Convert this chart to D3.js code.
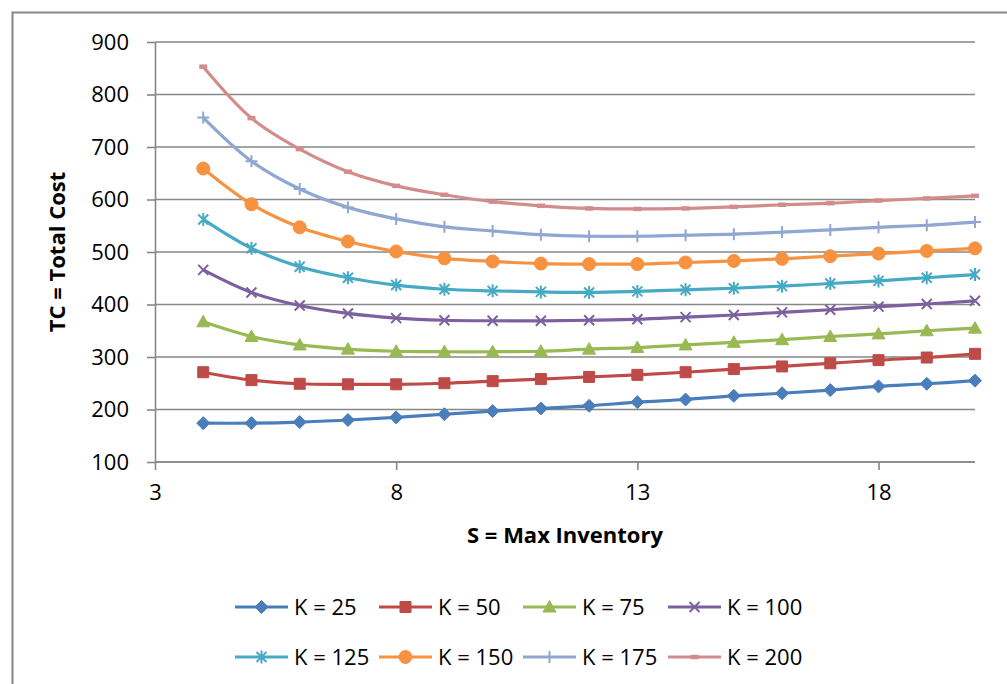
<!DOCTYPE html>
<html>
<head>
<meta charset="utf-8">
<script src="https://cdn.jsdelivr.net/npm/d3@7"></script>
<style>
    body { margin: 0; background: #fff; }
    svg text { font-family: "Open Sans", "Noto Sans", sans-serif; fill: #000; }
    .grid line { stroke: #878787; stroke-width: 1.6; }
    .axis path, .axis line { stroke: #878787; stroke-width: 1.6; }
    .axis text { font-size: 22px; }
    .title { font-size: 22px; font-weight: bold; }
    .legend text { font-size: 22px; }
</style>
</head>
<body>
<div id="chart"></div>
<script>
// S = max inventory (x values)
var sValues = [4, 5, 6, 7, 8, 9, 10, 11, 12, 13, 14, 15, 16, 17, 18, 19, 20];

// total cost for each K
var tcK25  = [174, 174, 176, 180, 185, 191, 197, 202, 207, 214, 219, 226, 231, 237, 244, 249, 255];
var tcK50  = [271, 256, 249, 248, 248, 250, 254, 258, 262, 266, 271, 277, 282, 288, 294, 299, 306];
var tcK75  = [367, 339, 323, 315, 311, 310, 310, 311, 315, 318, 323, 328, 333, 339, 344, 350, 355];
var tcK100 = [466, 423, 398, 383, 374, 370, 369, 369, 370, 372, 376, 380, 385, 390, 396, 401, 407];
var tcK125 = [562, 507, 472, 451, 437, 429, 426, 424, 423, 425, 428, 431, 435, 440, 445, 451, 457];
var tcK150 = [659, 591, 547, 520, 501, 488, 482, 478, 477, 477, 480, 483, 487, 492, 497, 502, 507];
var tcK175 = [756, 673, 620, 585, 563, 548, 540, 533, 530, 530, 532, 534, 538, 542, 547, 551, 557];
var tcK200 = [853, 755, 696, 653, 626, 609, 596, 588, 583, 582, 583, 586, 590, 593, 598, 602, 607];

var seriesLabels = ["K = 25", "K = 50", "K = 75", "K = 100", "K = 125", "K = 150", "K = 175", "K = 200"];
var seriesValues = [tcK25, tcK50, tcK75, tcK100, tcK125, tcK150, tcK175, tcK200];
var seriesColors = ["#4A7EBB", "#BE4B48", "#98B954", "#7D60A0", "#46AAC5", "#F69240", "#8FA7D1", "#D28C8B"];
var seriesMarkers = ["diamond", "square", "triangle", "x", "star", "circle", "plus", "dash"];

var xTicks = [3, 8, 13, 18];
var yTicks = [100, 200, 300, 400, 500, 600, 700, 800, 900];

var width = 1007, height = 684;
var plot = { left: 155, right: 975, top: 42, bottom: 462 };

var svg = d3.select("#chart").append("svg")
    .attr("width", width)
    .attr("height", height);

// outer chart border (runs off the right / bottom edge)
svg.append("rect")
    .attr("x", 12.5).attr("y", 12.5)
    .attr("width", 1010).attr("height", 700)
    .attr("fill", "none")
    .attr("stroke", "#878787")
    .attr("stroke-width", 2);

var x = d3.scaleLinear().domain([3, 20]).range([plot.left, plot.right]);
var y = d3.scaleLinear().domain([100, 900]).range([plot.bottom, plot.top]);

// horizontal gridlines
svg.append("g").attr("class", "grid")
    .selectAll("line")
    .data(yTicks)
    .enter().append("line")
    .attr("x1", plot.left).attr("x2", plot.right)
    .attr("y1", function (d) { return y(d); })
    .attr("y2", function (d) { return y(d); });

// axes
var yAxis = svg.append("g").attr("class", "axis")
    .attr("transform", "translate(" + plot.left + ",0)")
    .call(d3.axisLeft(y).tickValues(yTicks).tickSize(8).tickPadding(18).tickSizeOuter(0));

var xAxis = svg.append("g").attr("class", "axis")
    .attr("transform", "translate(0," + plot.bottom + ")")
    .call(d3.axisBottom(x).tickValues(xTicks).tickSize(8).tickPadding(14).tickSizeOuter(0));
xAxis.select(".domain").attr("d", "M" + plot.left + ",0H" + plot.right);

// axis titles
svg.append("text").attr("class", "title")
    .attr("x", (plot.left + plot.right) / 2)
    .attr("y", 543)
    .attr("text-anchor", "middle")
    .text("S = Max Inventory");

svg.append("text").attr("class", "title")
    .attr("transform", "translate(65," + ((plot.top + plot.bottom) / 2) + ") rotate(-90)")
    .attr("text-anchor", "middle")
    .text("TC = Total Cost");

function markerPath(type) {
    switch (type) {
        case "diamond": return "M0,-6.5L6.5,0L0,6.5L-6.5,0Z";
        case "square": return "M-5.5,-5.5H5.5V5.5H-5.5Z";
        case "triangle": return "M0,-6.5L6.5,5L-6.5,5Z";
        case "circle": return "M6.5,0A6.5,6.5 0 1,1 -6.5,0A6.5,6.5 0 1,1 6.5,0Z";
        case "x": return "M-5,-5L5,5M-5,5L5,-5";
        case "star": return "M-5,-5L5,5M-5,5L5,-5M0,-6.5V6.5";
        case "plus": return "M0,-6V6M-6,0H6";
        case "dash": return "M-4,0H4";
    }
}

function drawMarker(sel, type, color) {
    var filled = ["diamond", "square", "triangle", "circle"].indexOf(type) >= 0;
    sel.attr("d", markerPath(type))
        .attr("fill", filled ? color : "none")
        .attr("stroke", color)
        .attr("stroke-width", type === "dash" ? 4.5 : (filled ? 1 : 2));
}

var line = d3.line()
    .x(function (d) { return x(d[0]); })
    .y(function (d) { return y(d[1]); })
    .curve(d3.curveCatmullRom.alpha(0.5));

seriesValues.forEach(function (vals, i) {
    var pts = sValues.map(function (s, j) { return [s, vals[j]]; });
    var g = svg.append("g");
    g.append("path")
        .attr("d", line(pts))
        .attr("fill", "none")
        .attr("stroke", seriesColors[i])
        .attr("stroke-width", 3.2)
        .attr("stroke-linejoin", "round");
    g.selectAll(".pt")
        .data(pts)
        .enter().append("path")
        .attr("class", "pt")
        .attr("transform", function (d) { return "translate(" + x(d[0]) + "," + y(d[1]) + ")"; })
        .each(function () { drawMarker(d3.select(this), seriesMarkers[i], seriesColors[i]); });
});

// legend, 4 columns x 2 rows
var legendCols = [235, 379, 523, 668];
var legendRows = [607, 657];
var legend = svg.append("g").attr("class", "legend");
seriesLabels.forEach(function (label, i) {
    var lx = legendCols[i % 4], ly = legendRows[Math.floor(i / 4)];
    var item = legend.append("g").attr("transform", "translate(" + lx + "," + ly + ")");
    item.append("line")
        .attr("x1", 0).attr("x2", 53)
        .attr("y1", 0).attr("y2", 0)
        .attr("stroke", seriesColors[i])
        .attr("stroke-width", 3.2);
    item.append("path")
        .attr("transform", "translate(26.5,0)")
        .call(function (p) { drawMarker(p, seriesMarkers[i], seriesColors[i]); });
    item.append("text")
        .attr("x", 59)
        .attr("y", 8)
        .text(label);
});
</script>
</body>
</html>
